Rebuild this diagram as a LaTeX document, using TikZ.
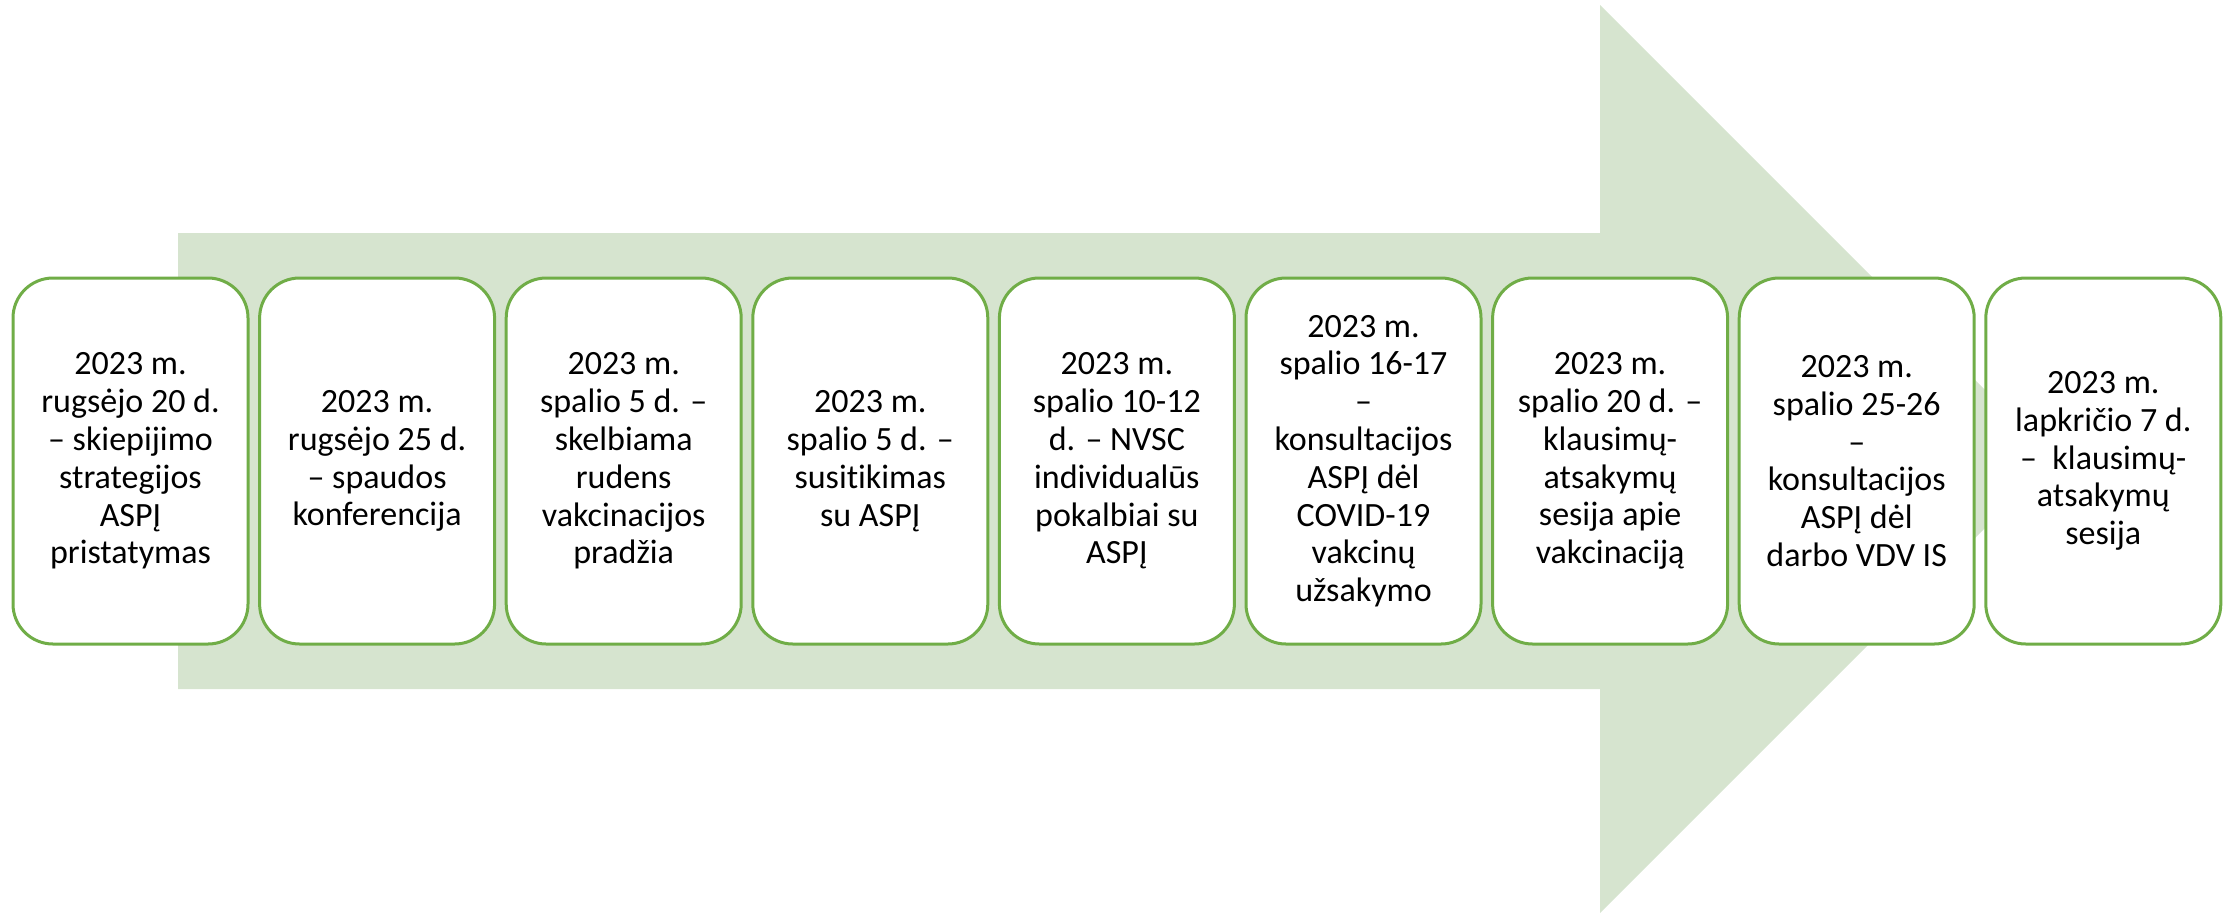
\documentclass[tikz,border=0pt]{standalone}
\usepackage{fontspec}
\setmainfont{Carlito}[Ligatures=CommonOff]
\definecolor{arrowfill}{RGB}{214,228,207}
\definecolor{boxline}{RGB}{112,173,71}

\begin{document}
\begin{tikzpicture}[x=0.5pt,y=-0.5pt,
   event/.style={draw=boxline,line width=1.5pt,fill=white,rounded corners=20pt,
      minimum width=117.5pt,minimum height=183pt,align=center,inner sep=2pt,
      font=\fontsize{17pt}{18.9pt}\selectfont}]
   \useasboundingbox (0,0) rectangle (2228,917);
   % big arrow behind the boxes
   \fill[arrowfill] (178,233) -- (1600,233) -- (1600,5) -- (2054,459)
      -- (1600,913) -- (1600,689) -- (178,689) -- cycle;
   \node[event] (e1) at (130.5,461)  {2023 m.\\rugsėjo 20 d.\\– skiepijimo\\strategijos\\ASPĮ\\pristatymas};
   \node[event] (e2) at (377.1,461)  {2023 m.\\rugsėjo 25 d.\\– spaudos\\konferencija};
   \node[event] (e3) at (623.7,461)  {2023 m.\\spalio 5 d. –\\skelbiama\\rudens\\vakcinacijos\\pradžia};
   \node[event] (e4) at (870.3,461)  {2023 m.\\spalio 5 d. –\\susitikimas\\su ASPĮ};
   \node[event] (e5) at (1116.9,461) {2023 m.\\spalio 10-12\\d. – NVSC\\individualūs\\pokalbiai su\\ASPĮ};
   \node[event] (e6) at (1363.5,461) {2023 m.\\spalio 16-17\\–\\konsultacijos\\ASPĮ dėl\\COVID-19\\vakcinų\\užsakymo};
   \node[event] (e7) at (1610.1,461) {2023 m.\\spalio 20 d. –\\klausimų-\\atsakymų\\sesija apie\\vakcinaciją};
   \node[event] (e8) at (1856.7,461) {2023 m.\\spalio 25-26\\–\\konsultacijos\\ASPĮ dėl\\darbo VDV IS};
   \node[event] (e9) at (2103.3,461) {2023 m.\\lapkričio 7 d.\\–~ klausimų-\\atsakymų\\sesija};
\end{tikzpicture}
\end{document}
